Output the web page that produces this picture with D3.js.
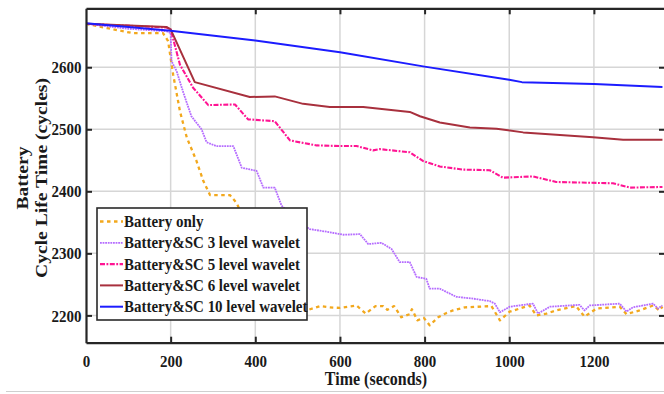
<!DOCTYPE html>
<html>
<head>
<meta charset="utf-8">
<script src="https://cdn.jsdelivr.net/npm/d3@7"></script>
<style>
body { margin: 0; background: #fff; }
svg { display: block; }
text { font-family: "Liberation Serif", "Times New Roman", serif; font-weight: bold; fill: #1a1a1a; }
</style>
</head>
<body>
<svg width="664" height="394"></svg>
<script>
// time (s) / cycle life pairs
var batteryOnlyTime = [0, 50, 110, 182, 194, 206, 222, 238, 261, 277, 293, 340, 356, 380, 410, 440, 470, 500, 521, 553, 576, 600, 639, 661, 684, 702, 712, 728, 745, 765, 770, 783, 798, 812, 832, 852, 867, 895, 958, 978, 1001, 1048, 1064, 1088, 1111, 1158, 1178, 1206, 1261, 1277, 1308, 1340, 1355, 1362];
var batteryOnlyLife = [2670, 2663, 2655, 2655, 2642, 2588, 2529, 2487, 2449, 2417, 2394, 2394, 2381, 2345, 2300, 2260, 2230, 2212, 2208, 2215, 2213, 2212, 2216, 2203, 2215, 2215, 2209, 2215, 2197, 2202, 2210, 2192, 2196, 2184, 2197, 2204, 2208, 2213, 2215, 2192, 2206, 2216, 2200, 2203, 2208, 2215, 2198, 2211, 2214, 2202, 2208, 2216, 2208, 2214];

var wav3Time = [0, 100, 190, 200, 202, 214, 230, 249, 273, 285, 308, 348, 368, 403, 419, 446, 462, 505, 529, 568, 608, 647, 667, 698, 722, 741, 765, 781, 804, 812, 836, 875, 915, 954, 966, 978, 1001, 1056, 1068, 1096, 1166, 1178, 1190, 1261, 1277, 1292, 1340, 1351, 1362];
var wav3Life = [2670, 2662, 2658, 2655, 2610, 2594, 2559, 2521, 2500, 2479, 2473, 2473, 2438, 2433, 2406, 2406, 2377, 2350, 2339, 2335, 2330, 2331, 2315, 2317, 2307, 2286, 2286, 2262, 2259, 2243, 2243, 2230, 2227, 2223, 2219, 2205, 2214, 2219, 2203, 2214, 2217, 2208, 2216, 2219, 2206, 2213, 2219, 2211, 2216];

var wav5Time = [0, 190, 200, 222, 253, 289, 352, 383, 446, 482, 545, 600, 639, 678, 694, 765, 796, 836, 891, 954, 985, 1056, 1111, 1245, 1285, 1362];
var wav5Life = [2670, 2664, 2661, 2604, 2567, 2539, 2540, 2516, 2513, 2482, 2474, 2473, 2473, 2466, 2468, 2463, 2449, 2440, 2435, 2434, 2422, 2424, 2415, 2413, 2406, 2407];

var wav6Time = [0, 190, 200, 257, 387, 446, 513, 576, 655, 765, 789, 836, 907, 970, 1033, 1198, 1269, 1362];
var wav6Life = [2670, 2665, 2661, 2576, 2552, 2553, 2541, 2536, 2536, 2528, 2521, 2511, 2503, 2501, 2495, 2487, 2483, 2483];

var wav10Time = [0, 200, 400, 600, 800, 1000, 1030, 1200, 1362];
var wav10Life = [2671, 2659, 2643, 2624, 2601, 2580, 2576, 2573, 2568];

var seriesNames = ["Battery only", "Battery&SC 3 level wavelet", "Battery&SC 5 level wavelet", "Battery&SC 6 level wavelet", "Battery&SC 10 level wavelet"];
var xTicks = [0, 200, 400, 600, 800, 1000, 1200];
var yTicks = [2200, 2300, 2400, 2500, 2600];

var styles = [
	{color: "#f2a81d", width: 2.3, dash: "3.5,3.5"},
	{color: "#b56cff", width: 1.8, dash: "1.8,0.8"},
	{color: "#ff1493", width: 2.1, dash: "5,1.5,1.8,1.5"},
	{color: "#a8303d", width: 2, dash: null},
	{color: "#1c1cff", width: 2, dash: null}
];

var series = [
	[batteryOnlyTime, batteryOnlyLife],
	[wav3Time, wav3Life],
	[wav5Time, wav5Life],
	[wav6Time, wav6Life],
	[wav10Time, wav10Life]
];

var svg = d3.select("svg");
var K = 1.12; // the figure's text is stretched a little vertically

var plotLeft = 86, plotRight = 665, plotTop = 8.3, plotBottom = 342.7;
var x = d3.scaleLinear().domain([0, 1368]).range([plotLeft, plotRight]);
var y = d3.scaleLinear().domain([2156, 2695]).range([plotBottom, plotTop]);

function tr(a, b) {
	return "translate(" + a + "," + b + ")";
}

// grid
var grid = svg.append("g").attr("stroke", "#d6d6d6").attr("stroke-width", 1.5);
xTicks.slice(1).forEach(function (t) {
	grid.append("line").attr("x1", x(t)).attr("x2", x(t)).attr("y1", plotTop).attr("y2", plotBottom);
});
yTicks.forEach(function (t) {
	grid.append("line").attr("x1", plotLeft).attr("x2", plotRight).attr("y1", y(t)).attr("y2", y(t));
});

svg.append("clipPath").attr("id", "plot")
	.append("rect").attr("x", plotLeft).attr("y", plotTop)
	.attr("width", plotRight - plotLeft).attr("height", plotBottom - plotTop);

var line = d3.line().x(function (d) { return x(d[0]); }).y(function (d) { return y(d[1]); });
var lines = svg.append("g").attr("clip-path", "url(#plot)");
series.forEach(function (s, i) {
	var pts = s[0].map(function (t, j) { return [t, s[1][j]]; });
	lines.append("path")
		.attr("d", line(pts))
		.attr("fill", "none")
		.attr("stroke", styles[i].color)
		.attr("stroke-width", styles[i].width)
		.attr("stroke-dasharray", styles[i].dash)
		.attr("stroke-linejoin", "round");
});

// axes with inward ticks on all four sides
function styleAxis(g) {
	g.attr("font-family", null).attr("font-size", null);
	g.select(".domain").attr("stroke", "#262626").attr("stroke-width", 2.2);
	g.selectAll(".tick line").attr("stroke", "#262626").attr("stroke-width", 2);
}

var xAxis = svg.append("g").attr("transform", tr(0, plotBottom))
	.call(d3.axisBottom(x).tickValues(xTicks).tickSize(-6).tickSizeOuter(0).tickFormat(d3.format("d")));
styleAxis(xAxis);
xAxis.selectAll(".tick text")
	.attr("y", 0).attr("dy", 0)
	.attr("transform", tr(0, 24) + " scale(1," + K + ")")
	.attr("fill", "#1a1a1a").style("font-size", "15px");
xAxis.selectAll(".tick").filter(function (d) { return d === 0; }).select("line").remove();

var topAxis = svg.append("g").attr("transform", tr(0, plotTop))
	.call(d3.axisTop(x).tickValues(xTicks.slice(1)).tickSize(-6).tickSizeOuter(0).tickFormat(""));
styleAxis(topAxis);

var yAxis = svg.append("g").attr("transform", tr(plotLeft, 0))
	.call(d3.axisLeft(y).tickValues(yTicks).tickSize(-6).tickSizeOuter(0).tickFormat(d3.format("d")));
styleAxis(yAxis);
yAxis.selectAll(".tick text")
	.attr("x", 0).attr("dy", 0)
	.attr("transform", tr(-4.5, 5.6) + " scale(1," + K + ")")
	.attr("fill", "#1a1a1a").style("font-size", "15px");

var rightAxis = svg.append("g").attr("transform", tr(plotRight, 0))
	.call(d3.axisRight(y).tickValues(yTicks).tickSize(-6).tickSizeOuter(0).tickFormat(""));
styleAxis(rightAxis);

// titles
svg.append("text")
	.attr("transform", tr(376, 385) + " scale(1," + K + ")")
	.attr("text-anchor", "middle").style("font-size", "16px")
	.text("Time (seconds)");
svg.append("text")
	.attr("transform", tr(28, 178) + " scale(1," + K + ") rotate(-90)")
	.attr("text-anchor", "middle").style("font-size", "17.5px")
	.text("Battery");
svg.append("text")
	.attr("transform", tr(47, 178) + " scale(1," + K + ") rotate(-90)")
	.attr("text-anchor", "middle").style("font-size", "17.5px")
	.text("Cycle Life Time (cycles)");

// legend
var legend = svg.append("g");
legend.append("rect")
	.attr("x", 97).attr("y", 208).attr("width", 210).attr("height", 112)
	.attr("fill", "#fff").attr("stroke", "#2a2a2a").attr("stroke-width", 1.6);
seriesNames.forEach(function (name, i) {
	var cy = 221.5 + i * 21.3;
	legend.append("line")
		.attr("x1", 100).attr("x2", 123).attr("y1", cy).attr("y2", cy)
		.attr("stroke", styles[i].color)
		.attr("stroke-width", styles[i].width)
		.attr("stroke-dasharray", styles[i].dash);
	legend.append("text")
		.attr("transform", tr(124, cy + 5.4) + " scale(1," + K + ")")
		.style("font-size", "15px")
		.text(name);
});

// light frame line under the figure
svg.append("line")
	.attr("x1", 6).attr("x2", 664).attr("y1", 391.5).attr("y2", 391.5)
	.attr("stroke", "#cfcfcf").attr("stroke-width", 1.2);
</script>
</body>
</html>
